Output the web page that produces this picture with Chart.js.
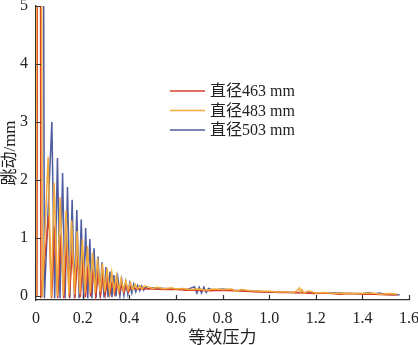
<!DOCTYPE html>
<html lang="zh">
<head>
<meta charset="UTF-8">
<title>跳动与等效压力</title>
<script src="https://cdn.jsdelivr.net/npm/chart.js@4.4.1/dist/chart.umd.min.js"></script>
<style>
    html, body { margin: 0; padding: 0; background: #fff; }
    #wrap { width: 418px; height: 345px; position: relative; }
</style>
</head>
<body>
<div id="wrap"><canvas id="chart"></canvas></div>
<script>
// 直径463 mm
const redX = [0.004, 0.0125, 0.021, 0.055, 0.067, 0.081, 0.093, 0.107, 0.119, 0.132,
              0.143, 0.156, 0.167, 0.179, 0.190, 0.202, 0.212, 0.224, 0.234, 0.246,
              0.256, 0.267, 0.277, 0.288, 0.297, 0.308, 0.317, 0.328, 0.337, 0.348,
              0.357, 0.368, 0.377, 0.388, 0.397, 0.408, 0.43, 0.46,
              0.50, 0.55, 0.60, 0.65, 0.70, 0.75, 0.80, 0.85, 0.90, 0.95,
              1.00, 1.05, 1.10, 1.15, 1.20, 1.25, 1.30, 1.35, 1.40, 1.45,
              1.50, 1.55];
const redY = [0, 30, -0.04, 1.4, -0.04, 1.2, -0.04, 1.05, -0.04, 0.92,
              -0.03, 0.8, -0.03, 0.7, -0.02, 0.6, -0.02, 0.52, -0.01, 0.45,
              0.0, 0.39, 0.01, 0.34, 0.02, 0.29, 0.03, 0.25, 0.04, 0.22,
              0.05, 0.19, 0.06, 0.17, 0.07, 0.15, 0.12, 0.13,
              0.12, 0.11, 0.11, 0.10, 0.10, 0.09, 0.10, 0.09, 0.08, 0.07,
              0.07, 0.06, 0.06, 0.05, 0.04, 0.05, 0.03, 0.04, 0.03, 0.03,
              0.02, 0.02];

// 直径483 mm
const orangeX = [0, 0.013, 0.027, 0.052, 0.065, 0.078, 0.091, 0.104, 0.117, 0.129,
                 0.141, 0.153, 0.165, 0.176, 0.188, 0.199, 0.210, 0.221, 0.232, 0.243,
                 0.254, 0.264, 0.275, 0.285, 0.295, 0.305, 0.315, 0.325, 0.335, 0.345,
                 0.355, 0.365, 0.375, 0.385, 0.395, 0.405, 0.415, 0.425, 0.435, 0.445,
                 0.455, 0.465, 0.48, 0.50, 0.52, 0.55, 0.58, 0.60, 0.63, 0.66,
                 0.70, 0.73, 0.76, 0.80, 0.84, 0.86, 0.88, 0.92, 0.96, 1.00,
                 1.04, 1.08, 1.10, 1.12, 1.13, 1.135, 1.14, 1.15, 1.17, 1.20,
                 1.24, 1.28, 1.32, 1.36, 1.40, 1.44, 1.48, 1.52, 1.55];
const orangeY = [0, 30, -0.02, 2.4, -0.02, 1.95, 0.0, 1.7, 0.01, 1.48,
                 0.02, 1.3, 0.03, 1.12, 0.04, 0.98, 0.05, 0.86, 0.05, 0.75,
                 0.06, 0.65, 0.07, 0.56, 0.07, 0.48, 0.08, 0.41, 0.08, 0.35,
                 0.09, 0.30, 0.10, 0.26, 0.10, 0.23, 0.11, 0.20, 0.12, 0.18,
                 0.12, 0.17, 0.16, 0.13, 0.15, 0.12, 0.14, 0.12, 0.13, 0.11,
                 0.12, 0.10, 0.12, 0.11, 0.12, 0.08, 0.11, 0.09, 0.08, 0.08,
                 0.07, 0.07, 0.05, 0.09, 0.14, 0.06, 0.11, 0.05, 0.09, 0.05,
                 0.06, 0.04, 0.05, 0.04, 0.04, 0.05, 0.03, 0.04, 0.03];

// 直径503 mm
const blueX = [0, 0.018, 0.036, 0.068, 0.080, 0.092, 0.103, 0.114, 0.125, 0.135,
               0.145, 0.155, 0.165, 0.175, 0.185, 0.194, 0.204, 0.213, 0.222, 0.231,
               0.240, 0.249, 0.258, 0.266, 0.275, 0.283, 0.292, 0.300, 0.309, 0.317,
               0.326, 0.334, 0.343, 0.351, 0.360, 0.368, 0.377, 0.385, 0.394, 0.402,
               0.411, 0.419, 0.428, 0.436, 0.445, 0.453, 0.462, 0.470, 0.480, 0.50,
               0.55, 0.60, 0.65, 0.68, 0.69, 0.70, 0.71, 0.72, 0.73, 0.74,
               0.76, 0.80, 0.85, 0.90, 0.95, 1.00, 1.05, 1.10, 1.15, 1.20,
               1.25, 1.30, 1.35, 1.40, 1.43, 1.45, 1.47, 1.50, 1.53, 1.56];
const blueY = [0, 30, -0.04, 3.0, -0.04, 2.38, -0.04, 2.12, -0.04, 1.88,
               -0.04, 1.66, -0.04, 1.48, -0.04, 1.32, -0.04, 1.17, -0.04, 0.98,
               -0.04, 0.82, -0.03, 0.68, -0.03, 0.58, -0.03, 0.50, -0.02, 0.42,
               -0.02, 0.36, -0.01, 0.31, 0.0, 0.27, 0.01, 0.24, 0.03, 0.22,
               0.05, 0.20, 0.07, 0.18, 0.09, 0.17, 0.10, 0.16, 0.12, 0.14,
               0.13, 0.12, 0.11, 0.16, 0.05, 0.15, 0.05, 0.15, 0.06, 0.13,
               0.10, 0.12, 0.10, 0.09, 0.08, 0.07, 0.07, 0.06, 0.06, 0.05,
               0.05, 0.05, 0.04, 0.04, 0.06, 0.03, 0.05, 0.03, 0.02, 0.02];

const yTicks = [0, 1, 2, 3, 4, 5];

const serif = '"Liberation Serif", "Noto Sans CJK SC", serif';
const axisColor = '#333';

function toPoints(xs, ys) {
    return xs.map((x, i) => ({ x: x, y: ys[i] }));
}

// short tick marks pointing into the plot area
const innerTicks = {
    id: 'innerTicks',
    afterDatasetsDraw(chart) {
        const ctx = chart.ctx;
        const xs = chart.scales.x, ys = chart.scales.y;
        const area = chart.chartArea;
        ctx.save();
        ctx.strokeStyle = axisColor;
        ctx.lineWidth = 1.2;
        ctx.beginPath();
        ys.ticks.forEach(t => {
            const py = Math.round(ys.getPixelForValue(t.value)) + 0.5;
            ctx.moveTo(area.left, py);
            ctx.lineTo(area.left + 5, py);
        });
        xs.ticks.forEach(t => {
            if (t.value === 0) return;
            const px = Math.round(xs.getPixelForValue(t.value)) + 0.5;
            ctx.moveTo(px, area.bottom);
            ctx.lineTo(px, area.bottom - 5);
        });
        ctx.stroke();
        ctx.restore();
    }
};

// legend box inside the plot
const insideLegend = {
    id: 'insideLegend',
    afterDraw(chart) {
        const ctx = chart.ctx;
        const left = 170, top = 91, gap = 19.5;
        ctx.save();
        ctx.font = '16px ' + serif;
        ctx.textBaseline = 'middle';
        chart.data.datasets.forEach((ds, i) => {
            const y = top + i * gap;
            ctx.strokeStyle = ds.borderColor;
            ctx.lineWidth = 1.5;
            ctx.beginPath();
            ctx.moveTo(left, y);
            ctx.lineTo(left + 35, y);
            ctx.stroke();
            ctx.fillStyle = '#222';
            ctx.fillText(ds.label, left + 40, y + 1);
        });
        ctx.restore();
    }
};

new Chart(document.getElementById('chart'), {
    type: 'line',
    data: {
        datasets: [
            { label: '直径463 mm', data: toPoints(redX, redY), borderColor: '#d8402b', order: 1 },
            { label: '直径483 mm', data: toPoints(orangeX, orangeY), borderColor: '#f2aa3c', order: 0 },
            { label: '直径503 mm', data: toPoints(blueX, blueY), borderColor: '#4f5c9f', order: 2 }
        ]
    },
    options: {
        responsive: true,
        maintainAspectRatio: false,
        animation: false,
        layout: { padding: { top: 6, right: 9, left: 0, bottom: 0 } },
        elements: {
            line: { borderWidth: 1.5, tension: 0 },
            point: { radius: 0 }
        },
        plugins: {
            legend: { display: false },
            tooltip: { enabled: false }
        },
        scales: {
            x: {
                type: 'linear',
                min: 0,
                max: 1.6,
                afterFit: scale => {
                    scale.height = 45;
                    scale.paddingLeft = 0;
                    scale.paddingRight = 0;
                },
                grid: { drawOnChartArea: false, drawTicks: false },
                border: { display: true, color: axisColor, width: 1.3 },
                ticks: {
                    stepSize: 0.2,
                    padding: 9,
                    maxRotation: 0,
                    color: '#222',
                    font: { family: serif, size: 16 },
                    callback: v => (v === 0 ? '0' : v.toFixed(1))
                },
                title: {
                    display: true,
                    text: '等效压力',
                    color: '#222',
                    font: { family: serif, size: 17, lineHeight: 1 },
                    padding: { top: -2, bottom: -2 }
                }
            },
            y: {
                min: -0.07,
                max: 5,
                afterBuildTicks: scale => {
                    scale.ticks = yTicks.map(v => ({ value: v }));
                },
                afterFit: scale => {
                    scale.width = 36;
                    scale.paddingTop = 0;
                    scale.paddingBottom = 0;
                },
                grid: { drawOnChartArea: false, drawTicks: false },
                border: { display: true, color: axisColor, width: 1.3 },
                ticks: {
                    padding: 8,
                    color: '#222',
                    font: { family: serif, size: 16 },
                    callback: v => String(v)
                },
                title: {
                    display: true,
                    text: '跳动/mm',
                    color: '#222',
                    font: { family: serif, size: 17 },
                    padding: { top: 0, bottom: 0 }
                }
            }
        }
    },
    plugins: [innerTicks, insideLegend]
});
</script>
</body>
</html>
